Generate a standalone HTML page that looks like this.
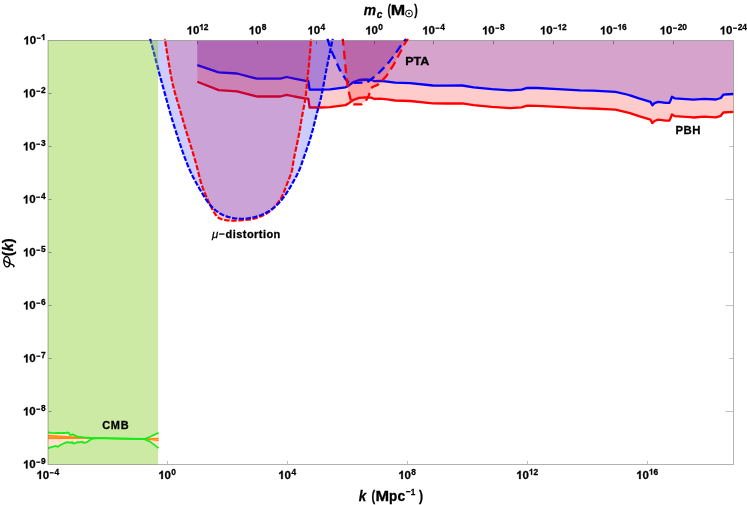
<!DOCTYPE html>
<html><head><meta charset="utf-8"><title>Power spectrum constraints</title>
<style>html,body{margin:0;padding:0;background:#fff;}body{width:747px;height:505px;overflow:hidden;font-family:"Liberation Sans", sans-serif;}svg{display:block;will-change:transform;}text{stroke:#000;stroke-width:0.28px;paint-order:stroke fill;}</style></head>
<body>
<svg width="747" height="505" viewBox="0 0 747 505">
<rect width="747" height="505" fill="#fff"/>
<defs><clipPath id="pc"><rect x="48" y="40.5" width="685.5" height="424"/></clipPath></defs>
<defs><clipPath id="pc2"><rect x="48" y="38.5" width="685.5" height="426"/></clipPath></defs>
<g clip-path="url(#pc)">
<path d="M197.3 40.5 L197.3 65.1 L218.7 72.3 L237 73.5 L257 78.7 L280.5 78.7 L286.6 77 L294.4 78.7 L305.7 80.8 L308.3 80.8 L309.6 89.7 L320 89.7 L330 89.3 L345.4 87.3 L347.9 86.1 L353.5 82 L359.1 80 L365.5 79.5 L371.1 79.8 L374.4 81.2 L380 80.8 L387.2 81.6 L395 82.7 L410 83.2 L432.8 85.5 L446.4 85.7 L462.3 85.5 L473.7 87.3 L491.9 89.1 L510.1 90.3 L521.5 89.6 L527.2 87.8 L537.4 88 L557.9 89.1 L580 90.3 L592.8 90.7 L615.5 91.9 L626.9 94.5 L630 95.3 L638.9 98.4 L650.5 101.9 L652.3 105.3 L654.5 103.2 L658.1 101.9 L665.7 102.9 L669.3 102.9 L670.6 100.2 L672 96.7 L674.6 98.3 L690 99.4 L693.5 99.7 L704.3 98.9 L716 99.5 L720.8 98 L723.3 94.7 L733.5 94 L733.5 40.5 Z" fill="rgba(0,0,255,0.2)" stroke="none"/>
<path d="M197.3 40.5 L197.3 81.8 L218.7 90.1 L237 91.3 L257 96.5 L280.5 96.5 L286.6 94.8 L294.4 96.5 L305.7 98.6 L308.3 98.6 L309.6 107.5 L320 107.5 L330 107.1 L345.4 105.1 L347.9 103.9 L353.5 99.8 L359.1 97.8 L365.5 97.3 L371.1 97.6 L374.4 99 L380 98.6 L387.2 99.4 L395 100.5 L410 101 L432.8 103.3 L446.4 103.5 L462.3 103.3 L473.7 105.1 L491.9 106.9 L510.1 108.1 L521.5 107.4 L527.2 105.6 L537.4 105.8 L557.9 106.9 L580 108.1 L592.8 108.5 L615.5 109.7 L626.9 112.3 L630 113.1 L638.9 116.2 L650.5 119.7 L652.3 123.1 L654.5 121 L658.1 119.7 L665.7 120.7 L669.3 120.7 L670.6 118 L672 114.5 L674.6 116.1 L690 117.2 L693.5 117.5 L704.3 116.7 L716 117.3 L720.8 115.8 L723.3 112.5 L733.5 111.8 L733.5 40.5 Z" fill="rgba(255,0,0,0.2)" stroke="none"/>
<path d="M197.3 65.1 L218.7 72.3 L237 73.5 L257 78.7 L280.5 78.7 L286.6 77 L294.4 78.7 L305.7 80.8 L308.3 80.8 L309.6 89.7 L320 89.7 L330 89.3 L345.4 87.3 L347.9 86.1 L353.5 82 L359.1 80 L365.5 79.5 L371.1 79.8 L374.4 81.2 L380 80.8 L387.2 81.6 L395 82.7 L410 83.2 L432.8 85.5 L446.4 85.7 L462.3 85.5 L473.7 87.3 L491.9 89.1 L510.1 90.3 L521.5 89.6 L527.2 87.8 L537.4 88 L557.9 89.1 L580 90.3 L592.8 90.7 L615.5 91.9 L626.9 94.5 L630 95.3 L638.9 98.4 L650.5 101.9 L652.3 105.3 L654.5 103.2 L658.1 101.9 L665.7 102.9 L669.3 102.9 L670.6 100.2 L672 96.7 L674.6 98.3 L690 99.4 L693.5 99.7 L704.3 98.9 L716 99.5 L720.8 98 L723.3 94.7 L733.5 94" fill="none" stroke="#0000ff" stroke-width="2.3" stroke-linejoin="round"/>
<path d="M197.3 81.8 L218.7 90.1 L237 91.3 L257 96.5 L280.5 96.5 L286.6 94.8 L294.4 96.5 L305.7 98.6 L308.3 98.6 L309.6 107.5 L320 107.5 L330 107.1 L345.4 105.1 L347.9 103.9 L353.5 99.8 L359.1 97.8 L365.5 97.3 L371.1 97.6 L374.4 99 L380 98.6 L387.2 99.4 L395 100.5 L410 101 L432.8 103.3 L446.4 103.5 L462.3 103.3 L473.7 105.1 L491.9 106.9 L510.1 108.1 L521.5 107.4 L527.2 105.6 L537.4 105.8 L557.9 106.9 L580 108.1 L592.8 108.5 L615.5 109.7 L626.9 112.3 L630 113.1 L638.9 116.2 L650.5 119.7 L652.3 123.1 L654.5 121 L658.1 119.7 L665.7 120.7 L669.3 120.7 L670.6 118 L672 114.5 L674.6 116.1 L690 117.2 L693.5 117.5 L704.3 116.7 L716 117.3 L720.8 115.8 L723.3 112.5 L733.5 111.8" fill="none" stroke="#ff0000" stroke-width="2.3" stroke-linejoin="round"/>
<path d="M165.1 40.5 L165.1 40.5 L165.38 42.23 L165.66 43.96 L165.94 45.69 L166.22 47.41 L166.5 49.14 L166.78 50.87 L167.06 52.6 L167.34 54.33 L167.62 56.05 L167.9 57.78 L168.19 59.51 L168.47 61.24 L168.76 62.96 L169.05 64.69 L169.34 66.42 L169.63 68.14 L169.93 69.87 L170.23 71.59 L170.54 73.32 L170.85 75.04 L171.18 76.76 L171.51 78.48 L171.86 80.2 L172.22 81.91 L172.59 83.62 L172.99 85.33 L173.4 87.03 L173.83 88.72 L174.28 90.42 L174.74 92.11 L175.21 93.79 L175.69 95.48 L176.18 97.16 L176.67 98.84 L177.16 100.52 L177.66 102.2 L178.16 103.88 L178.66 105.56 L179.15 107.23 L179.65 108.91 L180.15 110.59 L180.64 112.27 L181.13 113.95 L181.62 115.63 L182.11 117.31 L182.6 119 L183.09 120.68 L183.57 122.36 L184.06 124.04 L184.56 125.72 L185.05 127.4 L185.55 129.08 L186.06 130.75 L186.56 132.43 L187.08 134.1 L187.59 135.77 L188.11 137.45 L188.64 139.12 L189.16 140.79 L189.69 142.46 L190.21 144.13 L190.73 145.8 L191.25 147.47 L191.77 149.14 L192.29 150.82 L192.8 152.49 L193.31 154.17 L193.81 155.84 L194.31 157.52 L194.8 159.2 L195.28 160.89 L195.76 162.57 L196.22 164.26 L196.68 165.95 L197.14 167.64 L197.58 169.33 L198.01 171.03 L198.43 172.73 L198.85 174.43 L199.27 176.13 L199.7 177.83 L200.14 179.53 L200.6 181.21 L201.1 182.89 L201.62 184.56 L202.18 186.22 L202.76 187.87 L203.38 189.51 L204.01 191.14 L204.67 192.77 L205.34 194.39 L206.03 196 L206.73 197.61 L207.45 199.21 L208.18 200.8 L208.92 202.39 L209.67 203.97 L210.43 205.54 L211.2 207.11 L211.99 208.66 L212.81 210.2 L213.67 211.73 L214.59 213.24 L215.59 214.71 L216.7 216.1 L217.94 217.33 L219.36 218.31 L220.95 219.04 L222.65 219.57 L224.38 219.96 L226.12 220.24 L227.86 220.44 L229.61 220.55 L231.36 220.6 L233.11 220.6 L234.86 220.56 L236.6 220.49 L238.35 220.4 L240.1 220.29 L241.85 220.17 L243.6 220.04 L245.35 219.91 L247.1 219.76 L248.84 219.58 L250.57 219.34 L252.29 219.04 L254 218.67 L255.69 218.21 L257.37 217.69 L259.02 217.1 L260.65 216.44 L262.26 215.73 L263.84 214.95 L265.39 214.12 L266.9 213.23 L268.37 212.27 L269.78 211.24 L271.15 210.15 L272.46 208.98 L273.71 207.76 L274.91 206.48 L276.07 205.15 L277.17 203.78 L278.22 202.38 L279.22 200.93 L280.16 199.46 L281.05 197.95 L281.87 196.4 L282.64 194.83 L283.35 193.24 L284.04 191.62 L284.69 190 L285.33 188.36 L285.96 186.72 L286.59 185.09 L287.23 183.46 L287.87 181.83 L288.51 180.2 L289.15 178.57 L289.79 176.94 L290.42 175.31 L291.03 173.66 L291.57 171.99 L292.02 170.31 L292.36 168.59 L292.64 166.86 L292.88 165.13 L293.13 163.39 L293.41 161.66 L293.71 159.93 L294.02 158.21 L294.35 156.49 L294.7 154.77 L295.05 153.06 L295.42 151.35 L295.79 149.64 L296.16 147.93 L296.53 146.22 L296.9 144.5 L297.27 142.79 L297.63 141.08 L297.99 139.36 L298.34 137.65 L298.68 135.93 L299.01 134.21 L299.33 132.49 L299.64 130.77 L299.93 129.04 L300.22 127.32 L300.5 125.59 L300.78 123.86 L301.06 122.13 L301.35 120.4 L301.64 118.68 L301.95 116.95 L302.26 115.23 L302.59 113.51 L302.93 111.79 L303.27 110.07 L303.61 108.36 L303.95 106.64 L304.28 104.92 L304.59 103.2 L304.89 101.47 L305.17 99.75 L305.42 98.01 L305.65 96.28 L305.87 94.54 L306.07 92.81 L306.27 91.06 L306.45 89.32 L306.62 87.58 L306.79 85.84 L306.95 84.09 L307.12 82.35 L307.28 80.6 L307.45 78.86 L307.63 77.12 L307.81 75.37 L308 73.63 L308.18 71.89 L308.37 70.15 L308.56 68.41 L308.74 66.67 L308.92 64.93 L309.1 63.19 L309.27 61.45 L309.44 59.7 L309.59 57.96 L309.74 56.22 L309.89 54.47 L310.03 52.73 L310.16 50.98 L310.29 49.23 L310.42 47.49 L310.54 45.74 L310.66 43.99 L310.78 42.25 L310.9 40.5 L310.9 40.5 Z" fill="rgba(255,0,0,0.2)" stroke="none"/>
<path d="M150.6 40.5 L150.6 40.5 L151.07 42.22 L151.54 43.94 L152.02 45.65 L152.48 47.37 L152.95 49.09 L153.41 50.81 L153.87 52.53 L154.33 54.26 L154.78 55.98 L155.22 57.7 L155.66 59.43 L156.1 61.16 L156.54 62.88 L156.97 64.61 L157.41 66.34 L157.86 68.06 L158.3 69.79 L158.76 71.51 L159.22 73.23 L159.68 74.95 L160.15 76.67 L160.63 78.39 L161.11 80.1 L161.59 81.82 L162.07 83.53 L162.55 85.25 L163.03 86.97 L163.5 88.68 L163.98 90.4 L164.45 92.12 L164.93 93.83 L165.4 95.55 L165.87 97.27 L166.34 98.99 L166.81 100.71 L167.28 102.42 L167.75 104.14 L168.22 105.86 L168.69 107.58 L169.16 109.3 L169.65 111.01 L170.13 112.73 L170.62 114.44 L171.12 116.15 L171.63 117.85 L172.15 119.56 L172.67 121.26 L173.19 122.97 L173.72 124.67 L174.26 126.37 L174.79 128.06 L175.34 129.76 L175.88 131.46 L176.42 133.15 L176.97 134.85 L177.52 136.54 L178.08 138.24 L178.63 139.93 L179.19 141.62 L179.75 143.31 L180.32 145 L180.89 146.69 L181.47 148.37 L182.05 150.06 L182.64 151.74 L183.23 153.42 L183.83 155.1 L184.44 156.78 L185.06 158.45 L185.69 160.12 L186.33 161.78 L186.98 163.44 L187.65 165.09 L188.33 166.73 L189.03 168.37 L189.75 170 L190.49 171.62 L191.24 173.24 L192.01 174.84 L192.8 176.44 L193.61 178.03 L194.43 179.61 L195.27 181.19 L196.12 182.75 L196.98 184.31 L197.86 185.86 L198.74 187.4 L199.64 188.94 L200.54 190.48 L201.45 192.01 L202.37 193.54 L203.29 195.07 L204.21 196.6 L205.16 198.11 L206.13 199.61 L207.14 201.08 L208.18 202.52 L209.28 203.92 L210.43 205.28 L211.63 206.59 L212.89 207.86 L214.2 209.08 L215.55 210.24 L216.95 211.35 L218.4 212.4 L219.9 213.37 L221.44 214.26 L223.04 215.05 L224.68 215.75 L226.36 216.36 L228.06 216.89 L229.79 217.35 L231.54 217.74 L233.29 218.06 L235.06 218.32 L236.83 218.51 L238.61 218.65 L240.39 218.73 L242.17 218.74 L243.96 218.7 L245.74 218.6 L247.52 218.43 L249.28 218.2 L251.04 217.91 L252.79 217.55 L254.52 217.13 L256.24 216.65 L257.95 216.12 L259.63 215.54 L261.3 214.91 L262.95 214.22 L264.58 213.49 L266.17 212.69 L267.74 211.84 L269.27 210.93 L270.77 209.96 L272.23 208.93 L273.65 207.85 L275.03 206.71 L276.36 205.52 L277.65 204.29 L278.89 203.01 L280.08 201.68 L281.24 200.33 L282.36 198.94 L283.44 197.52 L284.49 196.08 L285.5 194.61 L286.49 193.13 L287.46 191.63 L288.41 190.12 L289.34 188.6 L290.25 187.07 L291.15 185.54 L292.04 184 L292.92 182.45 L293.79 180.89 L294.65 179.33 L295.5 177.76 L296.34 176.19 L297.17 174.61 L297.97 173.02 L298.73 171.41 L299.44 169.78 L300.1 168.12 L300.72 166.45 L301.31 164.77 L301.89 163.09 L302.46 161.4 L303.04 159.71 L303.63 158.03 L304.22 156.35 L304.82 154.67 L305.42 152.99 L306.01 151.31 L306.61 149.63 L307.19 147.95 L307.77 146.27 L308.34 144.58 L308.9 142.89 L309.44 141.19 L309.97 139.49 L310.5 137.79 L311 136.08 L311.5 134.37 L311.99 132.65 L312.46 130.93 L312.92 129.21 L313.37 127.49 L313.8 125.76 L314.23 124.03 L314.66 122.3 L315.08 120.57 L315.51 118.84 L315.93 117.11 L316.36 115.38 L316.8 113.66 L317.25 111.93 L317.71 110.21 L318.18 108.49 L318.64 106.77 L319.1 105.05 L319.56 103.33 L320 101.6 L320.43 99.87 L320.84 98.14 L321.23 96.4 L321.61 94.66 L321.98 92.92 L322.33 91.18 L322.68 89.43 L323.02 87.68 L323.35 85.93 L323.68 84.18 L324 82.42 L324.33 80.67 L324.65 78.92 L324.97 77.16 L325.29 75.41 L325.62 73.66 L325.95 71.91 L326.29 70.16 L326.62 68.41 L326.96 66.66 L327.31 64.91 L327.65 63.17 L328 61.42 L328.35 59.67 L328.71 57.93 L329.07 56.18 L329.43 54.44 L329.8 52.7 L330.16 50.95 L330.53 49.21 L330.9 47.47 L331.28 45.73 L331.65 43.98 L332.03 42.24 L332.4 40.5 L332.4 40.5 Z" fill="rgba(0,0,255,0.2)" stroke="none"/>
<path d="M328 40.5 L328 40.5 L330.8 49.7 L334.5 57.7 L339.3 68.9 L343.3 75.4 L345.6 79.2 L348.7 82.6 L352 83 L366 82.6 L368.5 81.4 L372.8 78 L377.9 73.8 L383.5 68.1 L389.9 60.9 L395.9 52.9 L400.3 46.4 L404.8 40.5 L404.8 40.5 Z" fill="rgba(0,0,255,0.2)" stroke="none"/>
<path d="M342.9 40.5 L342.9 40.5 L344.1 52.1 L345.8 70 L347 82 L349.1 93.3 L350.7 99.7 L352.3 103.3 L353.5 104.4 L361.5 104.4 L365.9 100.9 L368.7 95.7 L370.3 90.9 L371.1 88.1 L373.6 86.5 L377.6 84.9 L381.6 81.2 L386.4 76 L389.9 70.5 L393.1 65.7 L398.7 55.3 L403.6 45.6 L406.8 40.5 L406.8 40.5 Z" fill="rgba(255,0,0,0.2)" stroke="none"/>
</g>
<g clip-path="url(#pc2)">
<path d="M164.81 38.7 L165.1 40.5 L165.38 42.23 L165.66 43.96 L165.94 45.69 L166.22 47.41 L166.5 49.14 L166.78 50.87 L167.06 52.6 L167.34 54.33 L167.62 56.05 L167.9 57.78 L168.19 59.51 L168.47 61.24 L168.76 62.96 L169.05 64.69 L169.34 66.42 L169.63 68.14 L169.93 69.87 L170.23 71.59 L170.54 73.32 L170.85 75.04 L171.18 76.76 L171.51 78.48 L171.86 80.2 L172.22 81.91 L172.59 83.62 L172.99 85.33 L173.4 87.03 L173.83 88.72 L174.28 90.42 L174.74 92.11 L175.21 93.79 L175.69 95.48 L176.18 97.16 L176.67 98.84 L177.16 100.52 L177.66 102.2 L178.16 103.88 L178.66 105.56 L179.15 107.23 L179.65 108.91 L180.15 110.59 L180.64 112.27 L181.13 113.95 L181.62 115.63 L182.11 117.31 L182.6 119 L183.09 120.68 L183.57 122.36 L184.06 124.04 L184.56 125.72 L185.05 127.4 L185.55 129.08 L186.06 130.75 L186.56 132.43 L187.08 134.1 L187.59 135.77 L188.11 137.45 L188.64 139.12 L189.16 140.79 L189.69 142.46 L190.21 144.13 L190.73 145.8 L191.25 147.47 L191.77 149.14 L192.29 150.82 L192.8 152.49 L193.31 154.17 L193.81 155.84 L194.31 157.52 L194.8 159.2 L195.28 160.89 L195.76 162.57 L196.22 164.26 L196.68 165.95 L197.14 167.64 L197.58 169.33 L198.01 171.03 L198.43 172.73 L198.85 174.43 L199.27 176.13 L199.7 177.83 L200.14 179.53 L200.6 181.21 L201.1 182.89 L201.62 184.56 L202.18 186.22 L202.76 187.87 L203.38 189.51 L204.01 191.14 L204.67 192.77 L205.34 194.39 L206.03 196 L206.73 197.61 L207.45 199.21 L208.18 200.8 L208.92 202.39 L209.67 203.97 L210.43 205.54 L211.2 207.11 L211.99 208.66 L212.81 210.2 L213.67 211.73 L214.59 213.24 L215.59 214.71 L216.7 216.1 L217.94 217.33 L219.36 218.31 L220.95 219.04 L222.65 219.57 L224.38 219.96 L226.12 220.24 L227.86 220.44 L229.61 220.55 L231.36 220.6 L233.11 220.6 L234.86 220.56 L236.6 220.49 L238.35 220.4 L240.1 220.29 L241.85 220.17 L243.6 220.04 L245.35 219.91 L247.1 219.76 L248.84 219.58 L250.57 219.34 L252.29 219.04 L254 218.67 L255.69 218.21 L257.37 217.69 L259.02 217.1 L260.65 216.44 L262.26 215.73 L263.84 214.95 L265.39 214.12 L266.9 213.23 L268.37 212.27 L269.78 211.24 L271.15 210.15 L272.46 208.98 L273.71 207.76 L274.91 206.48 L276.07 205.15 L277.17 203.78 L278.22 202.38 L279.22 200.93 L280.16 199.46 L281.05 197.95 L281.87 196.4 L282.64 194.83 L283.35 193.24 L284.04 191.62 L284.69 190 L285.33 188.36 L285.96 186.72 L286.59 185.09 L287.23 183.46 L287.87 181.83 L288.51 180.2 L289.15 178.57 L289.79 176.94 L290.42 175.31 L291.03 173.66 L291.57 171.99 L292.02 170.31 L292.36 168.59 L292.64 166.86 L292.88 165.13 L293.13 163.39 L293.41 161.66 L293.71 159.93 L294.02 158.21 L294.35 156.49 L294.7 154.77 L295.05 153.06 L295.42 151.35 L295.79 149.64 L296.16 147.93 L296.53 146.22 L296.9 144.5 L297.27 142.79 L297.63 141.08 L297.99 139.36 L298.34 137.65 L298.68 135.93 L299.01 134.21 L299.33 132.49 L299.64 130.77 L299.93 129.04 L300.22 127.32 L300.5 125.59 L300.78 123.86 L301.06 122.13 L301.35 120.4 L301.64 118.68 L301.95 116.95 L302.26 115.23 L302.59 113.51 L302.93 111.79 L303.27 110.07 L303.61 108.36 L303.95 106.64 L304.28 104.92 L304.59 103.2 L304.89 101.47 L305.17 99.75 L305.42 98.01 L305.65 96.28 L305.87 94.54 L306.07 92.81 L306.27 91.06 L306.45 89.32 L306.62 87.58 L306.79 85.84 L306.95 84.09 L307.12 82.35 L307.28 80.6 L307.45 78.86 L307.63 77.12 L307.81 75.37 L308 73.63 L308.18 71.89 L308.37 70.15 L308.56 68.41 L308.74 66.67 L308.92 64.93 L309.1 63.19 L309.27 61.45 L309.44 59.7 L309.59 57.96 L309.74 56.22 L309.89 54.47 L310.03 52.73 L310.16 50.98 L310.29 49.23 L310.42 47.49 L310.54 45.74 L310.66 43.99 L310.78 42.25 L310.9 40.5 L311.02 38.7" fill="none" stroke="#ff0000" stroke-width="2.2" stroke-linejoin="round" stroke-dasharray="5.4 1.7" stroke-dashoffset="-2.62"/>
<path d="M150.1 38.7 L150.6 40.5 L151.07 42.22 L151.54 43.94 L152.02 45.65 L152.48 47.37 L152.95 49.09 L153.41 50.81 L153.87 52.53 L154.33 54.26 L154.78 55.98 L155.22 57.7 L155.66 59.43 L156.1 61.16 L156.54 62.88 L156.97 64.61 L157.41 66.34 L157.86 68.06 L158.3 69.79 L158.76 71.51 L159.22 73.23 L159.68 74.95 L160.15 76.67 L160.63 78.39 L161.11 80.1 L161.59 81.82 L162.07 83.53 L162.55 85.25 L163.03 86.97 L163.5 88.68 L163.98 90.4 L164.45 92.12 L164.93 93.83 L165.4 95.55 L165.87 97.27 L166.34 98.99 L166.81 100.71 L167.28 102.42 L167.75 104.14 L168.22 105.86 L168.69 107.58 L169.16 109.3 L169.65 111.01 L170.13 112.73 L170.62 114.44 L171.12 116.15 L171.63 117.85 L172.15 119.56 L172.67 121.26 L173.19 122.97 L173.72 124.67 L174.26 126.37 L174.79 128.06 L175.34 129.76 L175.88 131.46 L176.42 133.15 L176.97 134.85 L177.52 136.54 L178.08 138.24 L178.63 139.93 L179.19 141.62 L179.75 143.31 L180.32 145 L180.89 146.69 L181.47 148.37 L182.05 150.06 L182.64 151.74 L183.23 153.42 L183.83 155.1 L184.44 156.78 L185.06 158.45 L185.69 160.12 L186.33 161.78 L186.98 163.44 L187.65 165.09 L188.33 166.73 L189.03 168.37 L189.75 170 L190.49 171.62 L191.24 173.24 L192.01 174.84 L192.8 176.44 L193.61 178.03 L194.43 179.61 L195.27 181.19 L196.12 182.75 L196.98 184.31 L197.86 185.86 L198.74 187.4 L199.64 188.94 L200.54 190.48 L201.45 192.01 L202.37 193.54 L203.29 195.07 L204.21 196.6 L205.16 198.11 L206.13 199.61 L207.14 201.08 L208.18 202.52 L209.28 203.92 L210.43 205.28 L211.63 206.59 L212.89 207.86 L214.2 209.08 L215.55 210.24 L216.95 211.35 L218.4 212.4 L219.9 213.37 L221.44 214.26 L223.04 215.05 L224.68 215.75 L226.36 216.36 L228.06 216.89 L229.79 217.35 L231.54 217.74 L233.29 218.06 L235.06 218.32 L236.83 218.51 L238.61 218.65 L240.39 218.73 L242.17 218.74 L243.96 218.7 L245.74 218.6 L247.52 218.43 L249.28 218.2 L251.04 217.91 L252.79 217.55 L254.52 217.13 L256.24 216.65 L257.95 216.12 L259.63 215.54 L261.3 214.91 L262.95 214.22 L264.58 213.49 L266.17 212.69 L267.74 211.84 L269.27 210.93 L270.77 209.96 L272.23 208.93 L273.65 207.85 L275.03 206.71 L276.36 205.52 L277.65 204.29 L278.89 203.01 L280.08 201.68 L281.24 200.33 L282.36 198.94 L283.44 197.52 L284.49 196.08 L285.5 194.61 L286.49 193.13 L287.46 191.63 L288.41 190.12 L289.34 188.6 L290.25 187.07 L291.15 185.54 L292.04 184 L292.92 182.45 L293.79 180.89 L294.65 179.33 L295.5 177.76 L296.34 176.19 L297.17 174.61 L297.97 173.02 L298.73 171.41 L299.44 169.78 L300.1 168.12 L300.72 166.45 L301.31 164.77 L301.89 163.09 L302.46 161.4 L303.04 159.71 L303.63 158.03 L304.22 156.35 L304.82 154.67 L305.42 152.99 L306.01 151.31 L306.61 149.63 L307.19 147.95 L307.77 146.27 L308.34 144.58 L308.9 142.89 L309.44 141.19 L309.97 139.49 L310.5 137.79 L311 136.08 L311.5 134.37 L311.99 132.65 L312.46 130.93 L312.92 129.21 L313.37 127.49 L313.8 125.76 L314.23 124.03 L314.66 122.3 L315.08 120.57 L315.51 118.84 L315.93 117.11 L316.36 115.38 L316.8 113.66 L317.25 111.93 L317.71 110.21 L318.18 108.49 L318.64 106.77 L319.1 105.05 L319.56 103.33 L320 101.6 L320.43 99.87 L320.84 98.14 L321.23 96.4 L321.61 94.66 L321.98 92.92 L322.33 91.18 L322.68 89.43 L323.02 87.68 L323.35 85.93 L323.68 84.18 L324 82.42 L324.33 80.67 L324.65 78.92 L324.97 77.16 L325.29 75.41 L325.62 73.66 L325.95 71.91 L326.29 70.16 L326.62 68.41 L326.96 66.66 L327.31 64.91 L327.65 63.17 L328 61.42 L328.35 59.67 L328.71 57.93 L329.07 56.18 L329.43 54.44 L329.8 52.7 L330.16 50.95 L330.53 49.21 L330.9 47.47 L331.28 45.73 L331.65 43.98 L332.03 42.24 L332.4 40.5 L332.79 38.7" fill="none" stroke="#0000ff" stroke-width="2.2" stroke-linejoin="round" stroke-dasharray="5.2 1.6" stroke-dashoffset="0.13"/>
<path d="M327.45 38.7 L328 40.5 L330.8 49.7 L334.5 57.7 L339.3 68.9 L343.3 75.4 L345.6 79.2 L348.7 82.6 L352 83 L366 82.6 L368.5 81.4 L372.8 78 L377.9 73.8 L383.5 68.1 L389.9 60.9 L395.9 52.9 L400.3 46.4 L404.8 40.5 L406.17 38.7" fill="none" stroke="#0000ff" stroke-width="2.3" stroke-linejoin="round" stroke-dasharray="8.8 5" stroke-dashoffset="1.02"/>
<path d="M342.71 38.7 L342.9 40.5 L344.1 52.1 L345.8 70 L347 82 L349.1 93.3 L350.7 99.7 L352.3 103.3 L353.5 104.4 L361.5 104.4 L365.9 100.9 L368.7 95.7 L370.3 90.9 L371.1 88.1 L373.6 86.5 L377.6 84.9 L381.6 81.2 L386.4 76 L389.9 70.5 L393.1 65.7 L398.7 55.3 L403.6 45.6 L406.8 40.5 L407.93 38.7" fill="none" stroke="#ff0000" stroke-width="2.3" stroke-linejoin="round" stroke-dasharray="8.8 5" stroke-dashoffset="1.89"/>
</g>
<rect x="48" y="40.5" width="110.2" height="424" fill="rgba(128,203,28,0.4)"/>
<path d="M48.2 432.5 L51 432.9 L54.7 433.1 L58 432.9 L61 433.2 L63.4 433 L66 432.8 L67.7 432.5 L69.1 433.1 L69.9 434.8 L71.5 434.8 L72.8 434.4 L74.9 435.6 L77.8 436.7 L83.6 437.3 L90.8 437.8 L100 437.9 L110 438.3 L144.5 439 L150 436.8 L158.6 432.7 L158.6 448.1 L150 441.6 L144.5 439.2 L110 438.4 L100 438.2 L95.2 438.3 L92.3 438.8 L89.4 440.3 L87.2 442.1 L85.4 442.5 L83.6 442.8 L82.2 441.6 L80.7 442 L79.3 442.3 L77.8 442 L76.4 442.7 L75 443.2 L73.5 443.5 L72 442 L70.6 442.9 L69.2 442.3 L67.7 442.1 L64.1 443.2 L60.5 445 L59 445.9 L57.6 446.8 L56.3 446.2 L54.7 446.1 L52.5 446.9 L50.3 447.4 L48.2 448.4 Z" fill="#ffe4cd" stroke="none"/>
<path d="M48.2 435.3 L89.4 438 L110 438.3 L144.5 439 L158.6 438.3 L158.6 440.5 L144.5 439.2 L110 438.5 L89.4 438.2 L48.2 438.7 Z" fill="#ffa64d" stroke="none"/>
<path d="M48.2 435.3 L89.4 438 L110 438.3 L144.5 439 L158.6 438.3" fill="none" stroke="#ff8000" stroke-width="0.9" stroke-linejoin="round"/>
<path d="M48.2 437 L89.4 438.1" fill="none" stroke="#ff8000" stroke-width="0.8" stroke-linejoin="round"/>
<path d="M48.2 438.7 L89.4 438.2 L110 438.5 L144.5 439.2 L158.6 440.5" fill="none" stroke="#ff8000" stroke-width="0.9" stroke-linejoin="round"/>
<path d="M48.2 432.5 L51 432.9 L54.7 433.1 L58 432.9 L61 433.2 L63.4 433 L66 432.8 L67.7 432.5 L69.1 433.1 L69.9 434.8 L71.5 434.8 L72.8 434.4 L74.9 435.6 L77.8 436.7 L83.6 437.3 L90.8 437.8 L100 437.9 L110 438.3 L144.5 439 L150 436.8 L158.6 432.7" fill="none" stroke="#19eb19" stroke-width="1.8" stroke-linejoin="round"/>
<path d="M48.2 448.4 L50.3 447.4 L52.5 446.9 L54.7 446.1 L56.3 446.2 L57.6 446.8 L59 445.9 L60.5 445 L64.1 443.2 L67.7 442.1 L69.2 442.3 L70.6 442.9 L72 442 L73.5 443.5 L75 443.2 L76.4 442.7 L77.8 442 L79.3 442.3 L80.7 442 L82.2 441.6 L83.6 442.8 L85.4 442.5 L87.2 442.1 L89.4 440.3 L92.3 438.8 L95.2 438.3 L100 438.2 L110 438.4 L144.5 439.2 L150 441.6 L158.6 448.1" fill="none" stroke="#19eb19" stroke-width="1.8" stroke-linejoin="round"/>
<rect x="48" y="40.5" width="685.5" height="424" fill="none" stroke="rgba(0,0,0,0.3)" stroke-width="1"/>
<line x1="48.5" y1="93.5" x2="51.5" y2="93.5" stroke="rgba(0,0,0,0.36)" stroke-width="1"/>
<line x1="733" y1="93.5" x2="725.5" y2="93.5" stroke="rgba(0,0,0,0.24)" stroke-width="1"/>
<line x1="48.5" y1="146.5" x2="51.5" y2="146.5" stroke="rgba(0,0,0,0.36)" stroke-width="1"/>
<line x1="733" y1="146.5" x2="729.2" y2="146.5" stroke="rgba(0,0,0,0.24)" stroke-width="1"/>
<line x1="48.5" y1="199.5" x2="51.5" y2="199.5" stroke="rgba(0,0,0,0.36)" stroke-width="1"/>
<line x1="733" y1="199.5" x2="725.5" y2="199.5" stroke="rgba(0,0,0,0.24)" stroke-width="1"/>
<line x1="48.5" y1="252.5" x2="51.5" y2="252.5" stroke="rgba(0,0,0,0.36)" stroke-width="1"/>
<line x1="733" y1="252.5" x2="729.2" y2="252.5" stroke="rgba(0,0,0,0.24)" stroke-width="1"/>
<line x1="48.5" y1="305.5" x2="51.5" y2="305.5" stroke="rgba(0,0,0,0.36)" stroke-width="1"/>
<line x1="733" y1="305.5" x2="725.5" y2="305.5" stroke="rgba(0,0,0,0.24)" stroke-width="1"/>
<line x1="48.5" y1="358.5" x2="51.5" y2="358.5" stroke="rgba(0,0,0,0.36)" stroke-width="1"/>
<line x1="733" y1="358.5" x2="729.2" y2="358.5" stroke="rgba(0,0,0,0.24)" stroke-width="1"/>
<line x1="48.5" y1="411.5" x2="51.5" y2="411.5" stroke="rgba(0,0,0,0.36)" stroke-width="1"/>
<line x1="733" y1="411.5" x2="725.5" y2="411.5" stroke="rgba(0,0,0,0.24)" stroke-width="1"/>
<line x1="167.5" y1="464" x2="167.5" y2="460.8" stroke="rgba(0,0,0,0.24)" stroke-width="1"/>
<line x1="287.5" y1="464" x2="287.5" y2="460.8" stroke="rgba(0,0,0,0.24)" stroke-width="1"/>
<line x1="407.5" y1="464" x2="407.5" y2="460.8" stroke="rgba(0,0,0,0.24)" stroke-width="1"/>
<line x1="527.5" y1="464" x2="527.5" y2="460.8" stroke="rgba(0,0,0,0.24)" stroke-width="1"/>
<line x1="647.5" y1="464" x2="647.5" y2="460.8" stroke="rgba(0,0,0,0.24)" stroke-width="1"/>
<line x1="197.5" y1="41" x2="197.5" y2="44.2" stroke="rgba(0,0,0,0.36)" stroke-width="1"/>
<line x1="257.5" y1="41" x2="257.5" y2="44.2" stroke="rgba(0,0,0,0.36)" stroke-width="1"/>
<line x1="316.5" y1="41" x2="316.5" y2="44.2" stroke="rgba(0,0,0,0.36)" stroke-width="1"/>
<line x1="374.5" y1="41" x2="374.5" y2="44.2" stroke="rgba(0,0,0,0.36)" stroke-width="1"/>
<line x1="433.5" y1="41" x2="433.5" y2="44.2" stroke="rgba(0,0,0,0.36)" stroke-width="1"/>
<line x1="493.5" y1="41" x2="493.5" y2="44.2" stroke="rgba(0,0,0,0.36)" stroke-width="1"/>
<line x1="553.5" y1="41" x2="553.5" y2="44.2" stroke="rgba(0,0,0,0.36)" stroke-width="1"/>
<line x1="613.5" y1="41" x2="613.5" y2="44.2" stroke="rgba(0,0,0,0.36)" stroke-width="1"/>
<line x1="673.5" y1="41" x2="673.5" y2="44.2" stroke="rgba(0,0,0,0.36)" stroke-width="1"/>
<path transform="translate(23.35 44.4) scale(0.01150)" d="M402 0H265V-516Q190 -446 88 -412V-536Q142 -554 205 -603Q268 -652 291 -716H402Z" fill="#000" stroke="#000" stroke-width="24.35"/>
<text x="29.75" y="44.4" font-family='"Liberation Sans", sans-serif' font-weight="bold" font-size="11.5" fill="#000">0</text>
<rect x="36.77" y="37.57" width="3.9" height="1.25" fill="#000"/>
<path transform="translate(40.93 40.1) scale(0.00840)" d="M402 0H265V-516Q190 -446 88 -412V-536Q142 -554 205 -603Q268 -652 291 -716H402Z" fill="#000" stroke="#000" stroke-width="33.33"/>
<path transform="translate(22.9 97.4) scale(0.01150)" d="M402 0H265V-516Q190 -446 88 -412V-536Q142 -554 205 -603Q268 -652 291 -716H402Z" fill="#000" stroke="#000" stroke-width="24.35"/>
<text x="29.3" y="97.4" font-family='"Liberation Sans", sans-serif' font-weight="bold" font-size="11.5" fill="#000">0</text>
<rect x="36.32" y="90.58" width="3.9" height="1.25" fill="#000"/>
<text x="40.93" y="93.1" font-family='"Liberation Sans", sans-serif' font-weight="bold" font-size="8.4" fill="#000">2</text>
<path transform="translate(22.8 150.4) scale(0.01150)" d="M402 0H265V-516Q190 -446 88 -412V-536Q142 -554 205 -603Q268 -652 291 -716H402Z" fill="#000" stroke="#000" stroke-width="24.35"/>
<text x="29.19" y="150.4" font-family='"Liberation Sans", sans-serif' font-weight="bold" font-size="11.5" fill="#000">0</text>
<rect x="36.22" y="143.58" width="3.9" height="1.25" fill="#000"/>
<text x="40.93" y="146.1" font-family='"Liberation Sans", sans-serif' font-weight="bold" font-size="8.4" fill="#000">3</text>
<path transform="translate(22.74 203.4) scale(0.01150)" d="M402 0H265V-516Q190 -446 88 -412V-536Q142 -554 205 -603Q268 -652 291 -716H402Z" fill="#000" stroke="#000" stroke-width="24.35"/>
<text x="29.13" y="203.4" font-family='"Liberation Sans", sans-serif' font-weight="bold" font-size="11.5" fill="#000">0</text>
<rect x="36.15" y="196.58" width="3.9" height="1.25" fill="#000"/>
<text x="40.93" y="199.1" font-family='"Liberation Sans", sans-serif' font-weight="bold" font-size="8.4" fill="#000">4</text>
<path transform="translate(22.88 256.4) scale(0.01150)" d="M402 0H265V-516Q190 -446 88 -412V-536Q142 -554 205 -603Q268 -652 291 -716H402Z" fill="#000" stroke="#000" stroke-width="24.35"/>
<text x="29.28" y="256.4" font-family='"Liberation Sans", sans-serif' font-weight="bold" font-size="11.5" fill="#000">0</text>
<rect x="36.3" y="249.57" width="3.9" height="1.25" fill="#000"/>
<text x="40.93" y="252.1" font-family='"Liberation Sans", sans-serif' font-weight="bold" font-size="8.4" fill="#000">5</text>
<path transform="translate(22.93 309.4) scale(0.01150)" d="M402 0H265V-516Q190 -446 88 -412V-536Q142 -554 205 -603Q268 -652 291 -716H402Z" fill="#000" stroke="#000" stroke-width="24.35"/>
<text x="29.32" y="309.4" font-family='"Liberation Sans", sans-serif' font-weight="bold" font-size="11.5" fill="#000">0</text>
<rect x="36.34" y="302.57" width="3.9" height="1.25" fill="#000"/>
<text x="40.93" y="305.1" font-family='"Liberation Sans", sans-serif' font-weight="bold" font-size="8.4" fill="#000">6</text>
<path transform="translate(22.97 362.4) scale(0.01150)" d="M402 0H265V-516Q190 -446 88 -412V-536Q142 -554 205 -603Q268 -652 291 -716H402Z" fill="#000" stroke="#000" stroke-width="24.35"/>
<text x="29.36" y="362.4" font-family='"Liberation Sans", sans-serif' font-weight="bold" font-size="11.5" fill="#000">0</text>
<rect x="36.39" y="355.57" width="3.9" height="1.25" fill="#000"/>
<text x="40.93" y="358.1" font-family='"Liberation Sans", sans-serif' font-weight="bold" font-size="8.4" fill="#000">7</text>
<path transform="translate(22.88 415.4) scale(0.01150)" d="M402 0H265V-516Q190 -446 88 -412V-536Q142 -554 205 -603Q268 -652 291 -716H402Z" fill="#000" stroke="#000" stroke-width="24.35"/>
<text x="29.28" y="415.4" font-family='"Liberation Sans", sans-serif' font-weight="bold" font-size="11.5" fill="#000">0</text>
<rect x="36.3" y="408.57" width="3.9" height="1.25" fill="#000"/>
<text x="40.93" y="411.1" font-family='"Liberation Sans", sans-serif' font-weight="bold" font-size="8.4" fill="#000">8</text>
<path transform="translate(22.9 468.4) scale(0.01150)" d="M402 0H265V-516Q190 -446 88 -412V-536Q142 -554 205 -603Q268 -652 291 -716H402Z" fill="#000" stroke="#000" stroke-width="24.35"/>
<text x="29.3" y="468.4" font-family='"Liberation Sans", sans-serif' font-weight="bold" font-size="11.5" fill="#000">0</text>
<rect x="36.32" y="461.57" width="3.9" height="1.25" fill="#000"/>
<text x="40.93" y="464.1" font-family='"Liberation Sans", sans-serif' font-weight="bold" font-size="8.4" fill="#000">9</text>
<path transform="translate(36.37 479) scale(0.01150)" d="M402 0H265V-516Q190 -446 88 -412V-536Q142 -554 205 -603Q268 -652 291 -716H402Z" fill="#000" stroke="#000" stroke-width="24.35"/>
<text x="42.76" y="479" font-family='"Liberation Sans", sans-serif' font-weight="bold" font-size="11.5" fill="#000">0</text>
<rect x="49.79" y="472.18" width="3.9" height="1.25" fill="#000"/>
<text x="54.56" y="474.7" font-family='"Liberation Sans", sans-serif' font-weight="bold" font-size="8.4" fill="#000">4</text>
<path transform="translate(158.22 479) scale(0.01150)" d="M402 0H265V-516Q190 -446 88 -412V-536Q142 -554 205 -603Q268 -652 291 -716H402Z" fill="#000" stroke="#000" stroke-width="24.35"/>
<text x="164.62" y="479" font-family='"Liberation Sans", sans-serif' font-weight="bold" font-size="11.5" fill="#000">0</text>
<text x="171.31" y="474.7" font-family='"Liberation Sans", sans-serif' font-weight="bold" font-size="8.4" fill="#000">0</text>
<path transform="translate(278.12 479) scale(0.01150)" d="M402 0H265V-516Q190 -446 88 -412V-536Q142 -554 205 -603Q268 -652 291 -716H402Z" fill="#000" stroke="#000" stroke-width="24.35"/>
<text x="284.51" y="479" font-family='"Liberation Sans", sans-serif' font-weight="bold" font-size="11.5" fill="#000">0</text>
<text x="291.41" y="474.7" font-family='"Liberation Sans", sans-serif' font-weight="bold" font-size="8.4" fill="#000">4</text>
<path transform="translate(398.19 479) scale(0.01150)" d="M402 0H265V-516Q190 -446 88 -412V-536Q142 -554 205 -603Q268 -652 291 -716H402Z" fill="#000" stroke="#000" stroke-width="24.35"/>
<text x="404.59" y="479" font-family='"Liberation Sans", sans-serif' font-weight="bold" font-size="11.5" fill="#000">0</text>
<text x="411.34" y="474.7" font-family='"Liberation Sans", sans-serif' font-weight="bold" font-size="8.4" fill="#000">8</text>
<path transform="translate(516.09 479) scale(0.01150)" d="M402 0H265V-516Q190 -446 88 -412V-536Q142 -554 205 -603Q268 -652 291 -716H402Z" fill="#000" stroke="#000" stroke-width="24.35"/>
<text x="522.48" y="479" font-family='"Liberation Sans", sans-serif' font-weight="bold" font-size="11.5" fill="#000">0</text>
<path transform="translate(528.77 474.7) scale(0.00840)" d="M402 0H265V-516Q190 -446 88 -412V-536Q142 -554 205 -603Q268 -652 291 -716H402Z" fill="#000" stroke="#000" stroke-width="33.33"/>
<text x="533.44" y="474.7" font-family='"Liberation Sans", sans-serif' font-weight="bold" font-size="8.4" fill="#000">2</text>
<path transform="translate(636.09 479) scale(0.01150)" d="M402 0H265V-516Q190 -446 88 -412V-536Q142 -554 205 -603Q268 -652 291 -716H402Z" fill="#000" stroke="#000" stroke-width="24.35"/>
<text x="642.48" y="479" font-family='"Liberation Sans", sans-serif' font-weight="bold" font-size="11.5" fill="#000">0</text>
<path transform="translate(648.77 474.7) scale(0.00840)" d="M402 0H265V-516Q190 -446 88 -412V-536Q142 -554 205 -603Q268 -652 291 -716H402Z" fill="#000" stroke="#000" stroke-width="33.33"/>
<text x="653.44" y="474.7" font-family='"Liberation Sans", sans-serif' font-weight="bold" font-size="8.4" fill="#000">6</text>
<path transform="translate(186.49 34.4) scale(0.01150)" d="M402 0H265V-516Q190 -446 88 -412V-536Q142 -554 205 -603Q268 -652 291 -716H402Z" fill="#000" stroke="#000" stroke-width="24.35"/>
<text x="192.88" y="34.4" font-family='"Liberation Sans", sans-serif' font-weight="bold" font-size="11.5" fill="#000">0</text>
<path transform="translate(199.17 30.1) scale(0.00840)" d="M402 0H265V-516Q190 -446 88 -412V-536Q142 -554 205 -603Q268 -652 291 -716H402Z" fill="#000" stroke="#000" stroke-width="33.33"/>
<text x="203.84" y="30.1" font-family='"Liberation Sans", sans-serif' font-weight="bold" font-size="8.4" fill="#000">2</text>
<path transform="translate(248.59 34.4) scale(0.01150)" d="M402 0H265V-516Q190 -446 88 -412V-536Q142 -554 205 -603Q268 -652 291 -716H402Z" fill="#000" stroke="#000" stroke-width="24.35"/>
<text x="254.99" y="34.4" font-family='"Liberation Sans", sans-serif' font-weight="bold" font-size="11.5" fill="#000">0</text>
<text x="261.74" y="30.1" font-family='"Liberation Sans", sans-serif' font-weight="bold" font-size="8.4" fill="#000">8</text>
<path transform="translate(307.32 34.4) scale(0.01150)" d="M402 0H265V-516Q190 -446 88 -412V-536Q142 -554 205 -603Q268 -652 291 -716H402Z" fill="#000" stroke="#000" stroke-width="24.35"/>
<text x="313.71" y="34.4" font-family='"Liberation Sans", sans-serif' font-weight="bold" font-size="11.5" fill="#000">0</text>
<text x="320.61" y="30.1" font-family='"Liberation Sans", sans-serif' font-weight="bold" font-size="8.4" fill="#000">4</text>
<path transform="translate(365.22 34.4) scale(0.01150)" d="M402 0H265V-516Q190 -446 88 -412V-536Q142 -554 205 -603Q268 -652 291 -716H402Z" fill="#000" stroke="#000" stroke-width="24.35"/>
<text x="371.62" y="34.4" font-family='"Liberation Sans", sans-serif' font-weight="bold" font-size="11.5" fill="#000">0</text>
<text x="378.31" y="30.1" font-family='"Liberation Sans", sans-serif' font-weight="bold" font-size="8.4" fill="#000">0</text>
<path transform="translate(422.17 34.4) scale(0.01150)" d="M402 0H265V-516Q190 -446 88 -412V-536Q142 -554 205 -603Q268 -652 291 -716H402Z" fill="#000" stroke="#000" stroke-width="24.35"/>
<text x="428.56" y="34.4" font-family='"Liberation Sans", sans-serif' font-weight="bold" font-size="11.5" fill="#000">0</text>
<rect x="435.59" y="27.57" width="3.9" height="1.25" fill="#000"/>
<text x="440.36" y="30.1" font-family='"Liberation Sans", sans-serif' font-weight="bold" font-size="8.4" fill="#000">4</text>
<path transform="translate(481.94 34.4) scale(0.01150)" d="M402 0H265V-516Q190 -446 88 -412V-536Q142 -554 205 -603Q268 -652 291 -716H402Z" fill="#000" stroke="#000" stroke-width="24.35"/>
<text x="488.34" y="34.4" font-family='"Liberation Sans", sans-serif' font-weight="bold" font-size="11.5" fill="#000">0</text>
<rect x="495.36" y="27.57" width="3.9" height="1.25" fill="#000"/>
<text x="499.99" y="30.1" font-family='"Liberation Sans", sans-serif' font-weight="bold" font-size="8.4" fill="#000">8</text>
<path transform="translate(539.84 34.4) scale(0.01150)" d="M402 0H265V-516Q190 -446 88 -412V-536Q142 -554 205 -603Q268 -652 291 -716H402Z" fill="#000" stroke="#000" stroke-width="24.35"/>
<text x="546.23" y="34.4" font-family='"Liberation Sans", sans-serif' font-weight="bold" font-size="11.5" fill="#000">0</text>
<rect x="553.26" y="27.57" width="3.9" height="1.25" fill="#000"/>
<path transform="translate(557.42 30.1) scale(0.00840)" d="M402 0H265V-516Q190 -446 88 -412V-536Q142 -554 205 -603Q268 -652 291 -716H402Z" fill="#000" stroke="#000" stroke-width="33.33"/>
<text x="562.09" y="30.1" font-family='"Liberation Sans", sans-serif' font-weight="bold" font-size="8.4" fill="#000">2</text>
<path transform="translate(599.84 34.4) scale(0.01150)" d="M402 0H265V-516Q190 -446 88 -412V-536Q142 -554 205 -603Q268 -652 291 -716H402Z" fill="#000" stroke="#000" stroke-width="24.35"/>
<text x="606.23" y="34.4" font-family='"Liberation Sans", sans-serif' font-weight="bold" font-size="11.5" fill="#000">0</text>
<rect x="613.26" y="27.57" width="3.9" height="1.25" fill="#000"/>
<path transform="translate(617.42 30.1) scale(0.00840)" d="M402 0H265V-516Q190 -446 88 -412V-536Q142 -554 205 -603Q268 -652 291 -716H402Z" fill="#000" stroke="#000" stroke-width="33.33"/>
<text x="622.09" y="30.1" font-family='"Liberation Sans", sans-serif' font-weight="bold" font-size="8.4" fill="#000">6</text>
<path transform="translate(659.62 34.4) scale(0.01150)" d="M402 0H265V-516Q190 -446 88 -412V-536Q142 -554 205 -603Q268 -652 291 -716H402Z" fill="#000" stroke="#000" stroke-width="24.35"/>
<text x="666.01" y="34.4" font-family='"Liberation Sans", sans-serif' font-weight="bold" font-size="11.5" fill="#000">0</text>
<rect x="673.03" y="27.57" width="3.9" height="1.25" fill="#000"/>
<text x="677.64" y="30.1" font-family='"Liberation Sans", sans-serif' font-weight="bold" font-size="8.4" fill="#000">20</text>
<path transform="translate(719.62 34.4) scale(0.01150)" d="M402 0H265V-516Q190 -446 88 -412V-536Q142 -554 205 -603Q268 -652 291 -716H402Z" fill="#000" stroke="#000" stroke-width="24.35"/>
<text x="726.01" y="34.4" font-family='"Liberation Sans", sans-serif' font-weight="bold" font-size="11.5" fill="#000">0</text>
<rect x="733.03" y="27.57" width="3.9" height="1.25" fill="#000"/>
<text x="737.64" y="30.1" font-family='"Liberation Sans", sans-serif' font-weight="bold" font-size="8.4" fill="#000">24</text>
<text transform="translate(405.25 64.6) scale(1.1222 1)" font-family='"Liberation Sans", sans-serif' font-weight="bold" font-size="11.2" fill="#000">PTA</text>
<text transform="translate(675.53 133.8) scale(1.0152 1)" font-family='"Liberation Sans", sans-serif' font-weight="bold" letter-spacing="0.5" font-size="11.2" fill="#000">PBH</text>
<text transform="translate(102.26 428.5) scale(0.9954 1)" font-family='"Liberation Sans", sans-serif' font-weight="bold" letter-spacing="0.7" font-size="11" fill="#000">CMB</text>
<text transform="translate(211.93 237.6) scale(1.0181 1)" font-family='"Liberation Sans", sans-serif' font-weight="normal" font-style="italic" font-size="11.2" fill="#000">μ</text>
<rect x="219.1" y="233.4" width="5.4" height="1.3" fill="#000"/>
<text transform="translate(225.56 237.6) scale(0.9842 1)" font-family='"Liberation Sans", sans-serif' font-weight="bold" letter-spacing="0.45" font-size="11.2" fill="#000">distortion</text>
<text transform="translate(363.66 14.8) scale(0.9490 1)" font-family='"Liberation Sans", sans-serif' font-weight="bold" font-style="italic" font-size="14.6" fill="#000">m</text>
<text transform="translate(376.8 17.5) scale(0.9947 1)" font-family='"Liberation Sans", sans-serif' font-weight="bold" font-style="italic" font-size="10.2" fill="#000">c</text>
<text transform="translate(387.38 14.8) scale(0.7094 1)" font-family='"Liberation Sans", sans-serif' font-weight="bold" font-size="14.6" fill="#000">(</text>
<text transform="translate(390.73 14.8) scale(1.1882 1)" font-family='"Liberation Sans", sans-serif' font-weight="bold" font-size="14.6" fill="#000">M</text>
<circle cx="409.0" cy="13.5" r="3.45" fill="none" stroke="#000" stroke-width="1.0"/>
<circle cx="409.0" cy="13.5" r="0.95" fill="#000"/>
<text transform="translate(414.17 14.8) scale(0.7094 1)" font-family='"Liberation Sans", sans-serif' font-weight="bold" font-size="14.6" fill="#000">)</text>
<text transform="translate(358.76 500.7) scale(0.9211 1)" font-family='"Liberation Sans", sans-serif' font-weight="bold" font-style="italic" font-size="14.6" fill="#000">k</text>
<text transform="translate(371.45 500.7) scale(0.7583 1)" font-family='"Liberation Sans", sans-serif' font-weight="bold" font-size="14.6" fill="#000">(</text>
<text transform="translate(375.5 500.7) scale(1.1195 1)" font-family='"Liberation Sans", sans-serif' font-weight="bold" font-size="14.6" fill="#000">M</text>
<text transform="translate(389.02 500.7) scale(0.9223 1)" font-family='"Liberation Sans", sans-serif' font-weight="bold" font-size="14.6" fill="#000">p</text>
<text transform="translate(397.54 500.7) scale(0.9554 1)" font-family='"Liberation Sans", sans-serif' font-weight="bold" font-size="14.6" fill="#000">c</text>
<text transform="translate(405.95 495.1) scale(0.8297 1)" font-family='"Liberation Sans", sans-serif' font-weight="bold" font-size="9.8" fill="#000">−1</text>
<text transform="translate(418.97 500.7) scale(0.8317 1)" font-family='"Liberation Sans", sans-serif' font-weight="bold" font-size="14.6" fill="#000">)</text>
<g transform="translate(13.4 267.6) rotate(-90)">
<text x="11.4" y="0" font-family='"Liberation Sans", sans-serif' font-weight="bold" font-size="14.6" fill="#000">(<tspan font-style="italic">k</tspan>)</text>
<ellipse cx="5.9" cy="-6.55" rx="5.2" ry="3.0" transform="rotate(-6 5.9 -6.55)" fill="none" stroke="#000" stroke-width="1.45"/>
<path d="M6.7 -8.9 L2.5 -0.1 Q1.9 1.2 0.9 0.3" fill="none" stroke="#000" stroke-width="1.35" stroke-linecap="round" stroke-linejoin="round"/>
</g>
</svg>
</body></html>
